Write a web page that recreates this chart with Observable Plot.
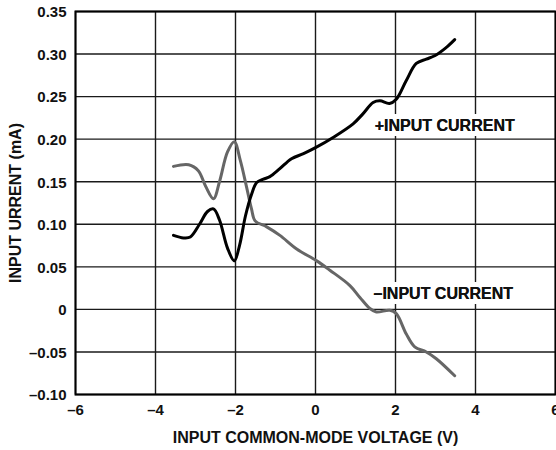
<!DOCTYPE html>
<html>
<head>
<meta charset="utf-8">
<script src="https://cdn.jsdelivr.net/npm/d3@7"></script>
<script src="https://cdn.jsdelivr.net/npm/@observablehq/plot@0.6"></script>
<style>
  html, body { margin: 0; padding: 0; background: #fff; }
  svg { display: block; font-family: "Liberation Sans", Arial, sans-serif; }
</style>
</head>
<body>
<div id="chart"></div>
<script>
// Tick values and labels
const xTicks = [-6, -4, -2, 0, 2, 4, 6];
const xTickLabels = ["–6", "–4", "–2", "0", "2", "4", "6"];
const yTicks = [0.35, 0.30, 0.25, 0.20, 0.15, 0.10, 0.05, 0, -0.05, -0.10];
const yTickLabels = ["0.35", "0.30", "0.25", "0.20", "0.15", "0.10", "0.05", "0", "–0.05", "–0.10"];

// +INPUT CURRENT (black)
const plusX = [-3.55, -3.3, -3.13, -2.9, -2.7, -2.55, -2.4, -2.2, -2.03, -1.9, -1.75, -1.6, -1.47, -1.3, -1.14, -0.9, -0.6, -0.3, 0, 0.44, 0.94, 1.19, 1.44, 1.61, 1.85, 2.02, 2.27, 2.52, 2.77, 2.98, 3.25, 3.48];
const plusY = [0.087, 0.084, 0.085, 0.100, 0.115, 0.118, 0.105, 0.072, 0.057, 0.075, 0.110, 0.135, 0.149, 0.153, 0.156, 0.165, 0.177, 0.183, 0.190, 0.202, 0.218, 0.230, 0.243, 0.245, 0.242, 0.247, 0.269, 0.289, 0.294, 0.298, 0.307, 0.317];

// –INPUT CURRENT (gray)
const minusX = [-3.55, -3.17, -2.93, -2.75, -2.55, -2.4, -2.2, -2.03, -1.88, -1.72, -1.6, -1.51, -1.22, -0.89, -0.47, 0.03, 0.36, 0.86, 1.11, 1.36, 1.52, 1.86, 2.02, 2.27, 2.48, 2.77, 3.02, 3.48];
const minusY = [0.168, 0.170, 0.163, 0.145, 0.130, 0.150, 0.185, 0.197, 0.175, 0.143, 0.118, 0.104, 0.097, 0.087, 0.071, 0.057, 0.046, 0.028, 0.014, 0.001, -0.003, -0.001, -0.005, -0.029, -0.044, -0.050, -0.058, -0.078];

// Annotations
const labelText = ["+INPUT CURRENT", "–INPUT CURRENT"];
const labelX = [1.48, 1.45];
const labelY = [0.216, 0.018];

const xTitle = "INPUT COMMON-MODE VOLTAGE (V)";
const yTitle = "INPUT URRENT (mA)";

const plus = plusX.map((x, i) => ({x, y: plusY[i]}));
const minus = minusX.map((x, i) => ({x, y: minusY[i]}));
const labels = labelText.map((t, i) => ({t, x: labelX[i], y: labelY[i]}));

const font = "Liberation Sans, Arial, sans-serif";

const chart = Plot.plot({
  width: 556,
  height: 450,
  marginLeft: 75,
  marginRight: 1,
  marginTop: 11,
  marginBottom: 56,
  style: {fontFamily: font, background: "#fff"},
  x: {domain: [-6, 6]},
  y: {domain: [-0.10, 0.35]},
  marks: [
    Plot.gridX(xTicks, {stroke: "#1a1a1a", strokeOpacity: 1, strokeWidth: 1.4}),
    Plot.gridY(yTicks, {stroke: "#1a1a1a", strokeOpacity: 1, strokeWidth: 1.4}),
    Plot.text(labels, {x: "x", y: "y", text: "t", textAnchor: "start", fontSize: 16, fontWeight: "bold", fill: "#111", stroke: "white", strokeWidth: 10, strokeLinejoin: "miter"}),
    Plot.text(labels, {x: "x", y: "y", text: "t", textAnchor: "start", fontSize: 16, fontWeight: "bold", fill: "#111"}),
    Plot.line(minus, {x: "x", y: "y", stroke: "#666", strokeWidth: 3, curve: "catmull-rom"}),
    Plot.line(plus, {x: "x", y: "y", stroke: "#000", strokeWidth: 3, curve: "catmull-rom"}),
    Plot.frame({stroke: "#000", strokeWidth: 2}),
    Plot.axisX(xTicks, {tickSize: 0, tickPadding: 10, tickFormat: (d) => xTickLabels[xTicks.indexOf(d)], fontSize: 15, fontWeight: "bold", label: null, fill: "#111"}),
    Plot.axisY(yTicks, {tickSize: 0, tickPadding: 9, dy: 1, tickFormat: (d) => yTickLabels[yTicks.indexOf(d)], fontSize: 15, fontWeight: "bold", label: null, fill: "#111"}),
    Plot.text([xTitle], {frameAnchor: "bottom", dy: 43.5, lineAnchor: "middle", textAnchor: "middle", fontSize: 16, fontWeight: "bold", fill: "#111"}),
    Plot.text([yTitle], {frameAnchor: "left", dx: -60, rotate: -90, lineAnchor: "middle", textAnchor: "middle", fontSize: 16, fontWeight: "bold", fill: "#111"})
  ]
});
document.getElementById("chart").appendChild(chart);
</script>
</body>
</html>
